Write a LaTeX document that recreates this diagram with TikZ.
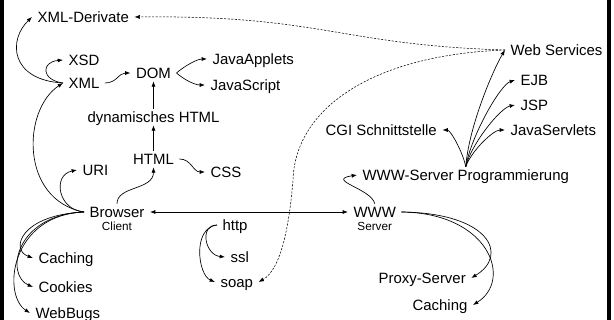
\documentclass[tikz,border=0pt]{standalone}
\usepackage{fontspec}
\setmainfont{Liberation Sans}
\usetikzlibrary{arrows.meta}

\begin{document}
\begin{tikzpicture}[x=0.75pt,y=-0.75pt]
    \tikzstyle{lbl} = [anchor=west, inner xsep=4pt, inner ysep=2pt, text height=8pt, text depth=0pt, font=\fontsize{11.2}{13}\selectfont]
    \tikzstyle{sub} = [inner sep=0pt, text height=6.3pt, text depth=0pt, font=\fontsize{8.8}{10}\selectfont, node distance=10.5pt]
    \tikzstyle{arr} = [-{Latex[length=4pt,width=3pt]}, line width=0.5pt]
    \tikzstyle{darr} = [arr, dash pattern=on 1.6pt off 1.1pt, line width=0.4pt]

    \useasboundingbox (0,0) rectangle (614,320);
    \fill (0,0) rectangle (4,320);
    \fill (607,0) rectangle (611,320);

    % client side
    \node [lbl] at (32,17) (xmlderiv) {XML-Derivate};
    \node [lbl] at (63,60) (xsd) {XSD};
    \node [lbl] at (63,83) (xml) {XML};
    \node [lbl, anchor=center] at (153.5,73) (dom) {DOM};
    \node [lbl] at (207,59) (applets) {JavaApplets};
    \node [lbl] at (205,85) (jscript) {JavaScript};
    \node [lbl, anchor=center] at (153.5,117) (dhtml) {dynamisches HTML};
    \node [lbl, anchor=center] at (153.5,159) (html) {HTML};
    \node [lbl] at (205,172) (css) {CSS};
    \node [lbl] at (77,170) (uri) {URI};
    \node [lbl] at (84,212) (browser) {Browser};
    \node [sub, below of=browser] (client) {Client};
    \node [lbl] at (33,258) (caching) {Caching};
    \node [lbl] at (33,287) (cookies) {Cookies};
    \node [lbl] at (30,313) (webbugs) {WebBugs};

    % protocols
    \node [lbl] at (217,225) (http) {http};
    \node [lbl] at (225,257) (ssl) {ssl};
    \node [lbl] at (215,282) (soap) {soap};

    % server side
    \node [lbl] at (348,212) (www) {WWW};
    \node [sub, below of=www] (server) {Server};
    \node [lbl] at (357,175) (wwwprog) {WWW-Server Programmierung};
    \node [lbl] at (373,278) (proxy) {Proxy-Server};
    \node [lbl] at (407,305) (srvcaching) {Caching};
    \node [lbl] at (505,50) (websrv) {Web Services};
    \node [lbl] at (515,80) (ejb) {EJB};
    \node [lbl] at (515,105) (jsp) {JSP};
    \node [lbl] at (505,130) (servlets) {JavaServlets};
    \node [lbl] at (320,130) (cgi) {CGI Schnittstelle};
    \coordinate (bend) at (293,180);

    \begin{scope}[arr]
    \draw (xml.west) .. controls +(-53,-3) and +(-24,23) .. (xmlderiv.west);
    \draw (xml.west) .. controls +(-22,-3) and +(-22,2) .. (xsd.west);
    \draw (xml.east) .. controls +(12,0) and +(-12,0) .. (dom.west);
    \draw (dom.east) .. controls +(8,-7) and +(-10,0) .. (applets.west);
    \draw (dom.east) .. controls +(8,7) and +(-10,0) .. (jscript.west);
    \draw (dhtml.north) -- (dom.south);
    \draw (html.north) -- (dhtml.south);
    \draw (html.east) .. controls +(12,0) and +(-12,0) .. (css.west);
    \draw (browser.north) .. controls +(0,-18) and +(0,23) .. (html.south);
    \draw (browser.west) .. controls +(-26,-2) and +(-25,5) .. (uri.west);
    \draw (browser.west) .. controls +(-64,-12) and +(-41,27) .. (xml.west);
    \draw (browser.west) .. controls +(-64,3) and +(-23,-8) .. (caching.west);
    \draw (browser.west) .. controls +(-69,3) and +(-28,-12) .. (cookies.west);
    \draw (browser.west) .. controls +(-74,3) and +(-28,-18) .. (webbugs.west);
    \draw [{Latex[length=4pt,width=3pt]}-{Latex[length=4pt,width=3pt]}] (browser.east) -- (www.west);
    \draw (http.west) .. controls +(-18,0) and +(-20,-2) .. (ssl.west);
    \draw (http.west) .. controls +(-25,3) and +(-17,-7) .. (soap.west);
    \draw (www.north) .. controls +(-3,-15) and +(-32,5) .. (wwwprog.west);
    \draw (www.east) .. controls +(88,1) and +(38,-23) .. (proxy.east);
    \draw (www.east) .. controls +(88,1) and +(40,-25) .. (srvcaching.east);
    \draw (wwwprog.north) .. controls +(3,-40) and +(-12,20) .. (websrv.west);
    \draw (wwwprog.north) .. controls +(5,-30) and +(-15,5) .. (ejb.west);
    \draw (wwwprog.north) .. controls +(5,-22) and +(-15,3) .. (jsp.west);
    \draw (wwwprog.north) .. controls +(5,-15) and +(-12,0) .. (servlets.west);
    \draw (wwwprog.north) .. controls +(-3,-15) and +(8,0) .. (cgi.east);
    \end{scope}

    \draw [darr] (websrv.west) .. controls +(-165,-5) and +(187,-2) .. (xmlderiv.east);
    \draw [darr] (websrv.west) .. controls (370,55) and (295,110) .. (bend)
        .. controls (289,230) and (280,270) .. (soap.east);
\end{tikzpicture}
\end{document}
